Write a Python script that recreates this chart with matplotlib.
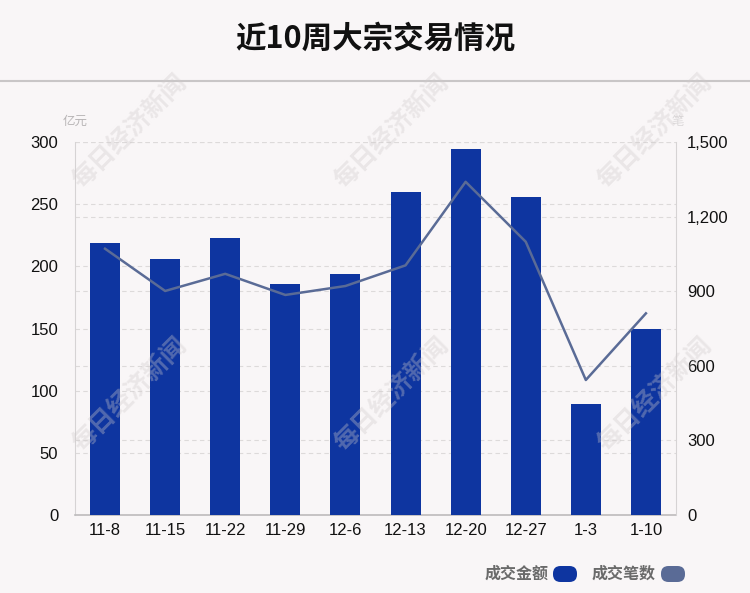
import matplotlib
matplotlib.use("Agg")
import matplotlib.pyplot as plt
from matplotlib.patches import FancyBboxPatch
from matplotlib.lines import Line2D
from matplotlib.ticker import FuncFormatter

plt.rcParams['font.family'] = ['Liberation Sans', 'Noto Sans CJK SC', 'DejaVu Sans']

weeks = ["11-8", "11-15", "11-22", "11-29", "12-6", "12-13", "12-20", "12-27", "1-3", "1-10"]
amount = [219, 206, 223, 185.5, 194, 259.5, 294, 256, 89.5, 149.6]   # 亿元
count = [1071, 901, 970, 885, 921, 1004, 1340, 1099, 543, 811]      # 笔
left_ticks = [0, 50, 100, 150, 200, 250, 300]
right_ticks = [0, 300, 600, 900, 1200, 1500]

bg = "#f9f6f7"
bar_color = "#0e35a0"
line_color = "#5a6b96"

fig = plt.figure(figsize=(7.5, 5.93), dpi=100, facecolor=bg)
ax = fig.add_axes([0.1, 0.1315, 0.8013, 0.629])
ax.set_facecolor(bg)
ax2 = ax.twinx()

x = list(range(len(weeks)))
ax.bar(x, amount, width=0.5, color=bar_color, zorder=3)
ax2.plot(x, count, color=line_color, linewidth=1.8, zorder=4)

ax.set_xlim(-0.5, len(weeks) - 0.5)
ax.set_ylim(0, 300)
ax2.set_ylim(0, 1500)
ax.set_yticks(left_ticks)
ax2.set_yticks(right_ticks)
ax2.yaxis.set_major_formatter(FuncFormatter(lambda v, p: f"{int(v):,}"))
ax.set_xticks(x)
ax.set_xticklabels(weeks)

for a in (ax, ax2):
    a.tick_params(axis='both', length=0, labelsize=12, colors="#111111")
    for s in a.spines.values():
        s.set_visible(False)
ax.tick_params(axis='x', pad=6)
ax.tick_params(axis='y', pad=12)
ax2.tick_params(axis='y', pad=8)

ax.spines['left'].set_visible(True)
ax.spines['left'].set_color("#d6d3d4")
ax.spines['bottom'].set_visible(True)
ax.spines['bottom'].set_color("#bdbbbc")
ax.spines['bottom'].set_linewidth(1.2)
ax2.spines['right'].set_visible(True)
ax2.spines['right'].set_color("#d6d3d4")

# gridlines behind the bars (right-axis ones converted to left-axis scale)
scale = 300 / 1500
for v in left_ticks[1:]:
    ax.axhline(v, color="#dddada", linestyle=(0, (4, 3)), linewidth=0.8, zorder=1)
for v in right_ticks[1:]:
    ax.axhline(v * scale, color="#dddada", linestyle=(0, (4, 3)), linewidth=0.8, zorder=1)
ax2.set_zorder(ax.get_zorder() + 1)
ax2.patch.set_visible(False)

# title and separator
fig.text(0.5, 0.935, "近10周大宗交易情况", ha='center', va='center', fontsize=22,
         fontweight='bold', color="#111111", family=['Noto Sans CJK SC', 'DejaVu Sans'])
fig.add_artist(Line2D([0, 1], [1 - 81 / 593, 1 - 81 / 593], color="#c9c6c7", linewidth=1.5))

# units
fig.text(75 / 750, 1 - 121 / 593, "亿元", ha='center', va='center', fontsize=9,
         color="#b8b5b6", family=['Noto Sans CJK SC'])
fig.text(678 / 750, 1 - 122 / 593, "笔", ha='center', va='center', fontsize=9,
         color="#dcd9da", family=['Noto Sans CJK SC'])

# watermarks
for (wx, wy) in [(130, 132), (392, 132), (655, 132), (130, 395), (392, 395), (655, 395)]:
    fig.text(wx / 750, 1 - wy / 593, "每日经济新闻", ha='center', va='center', fontsize=18,
             rotation=45, color="#cfcacb", alpha=0.35, fontweight='bold',
             family=['Noto Sans CJK SC'], zorder=10)

# legend
legend_items = [("成交金额", bar_color, 485, 553), ("成交笔数", line_color, 592, 661)]
for label, col, tx, px in legend_items:
    fig.text(tx / 750, 1 - 574 / 593, label, ha='left', va='center', fontsize=11.5,
             fontweight='bold', color="#6a6a6a", family=['Noto Sans CJK SC'])
    w, h = 24 / 750, 16 / 593
    fig.add_artist(FancyBboxPatch((px / 750, 1 - 582 / 593), w, h,
                                  boxstyle="round,pad=0,rounding_size=0.01",
                                  transform=fig.transFigure, facecolor=col, edgecolor='none',
                                  mutation_aspect=750 / 593))

fig.savefig("out.png", dpi=100, facecolor=bg)
